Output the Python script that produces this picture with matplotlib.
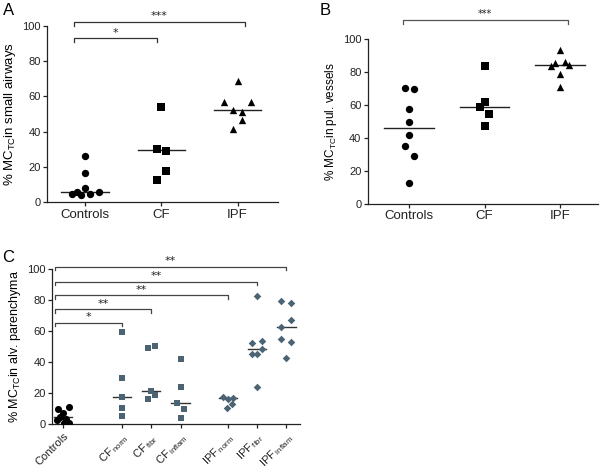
import matplotlib
matplotlib.use("Agg")
import matplotlib.pyplot as plt
import numpy as np

plt.rcParams['font.family'] = ['Liberation Sans', 'DejaVu Sans']
plt.rcParams['mathtext.fontset'] = 'custom'
plt.rcParams['mathtext.rm'] = 'Liberation Sans'
plt.rcParams['mathtext.it'] = 'Liberation Sans'

# ---------------- data ----------------
cats_AB = ["Controls", "CF", "IPF"]

A_ctrl = [4.5, 5.7, 4.3, 26.4, 16.4, 8.3, 4.5, 5.7]
A_ctrl_jit = [-0.17, -0.11, -0.06, 0, 0, 0, 0.07, 0.18]
A_cf = [54.2, 30.2, 29.2, 12.8, 17.9]
A_cf_jit = [0, -0.06, 0.06, -0.06, 0.06]
A_ipf = [68.5, 57.0, 56.8, 52.0, 51.0, 46.4, 41.7]
A_ipf_jit = [0, -0.18, 0.18, -0.06, 0.06, 0.06, -0.06]
A_medians = [5.7, 29.5, 52.0]

B_ctrl = [70.1, 69.5, 57.4, 49.9, 41.8, 34.9, 29.3, 12.7]
B_ctrl_jit = [-0.06, 0.06, 0, 0, 0, -0.06, 0.06, 0]
B_cf = [83.6, 61.8, 58.8, 54.3, 47.3]
B_cf_jit = [0, 0, -0.06, 0.06, 0]
B_ipf = [93.3, 83.8, 85.5, 86.1, 84.2, 78.8, 70.9]
B_ipf_jit = [0, -0.12, -0.06, 0.06, 0.12, 0, 0]
B_medians = [46.1, 58.6, 84.0]

C_labels = ["Controls", "CF$\\,_{\\mathrm{norm}}$", "CF$\\,_{\\mathrm{fibr}}$", "CF$\\,_{\\mathrm{inflam}}$",
            "IPF$\\,_{\\mathrm{norm}}$", "IPF$\\,_{\\mathrm{fibr}}$", "IPF$\\,_{\\mathrm{inflam}}$"]
C_pos = [0, 2, 3, 4, 5.6, 6.6, 7.6]
C_ctrl = [9.7, 11.0, 7.1, 4.5, 3.5, 2.8, 0.6, 0.6]
C_ctrl_jit = [-0.16, 0.2, 0, -0.1, 0.1, -0.2, 0.03, 0.2]
C_cf_norm = [59.7, 29.7, 17.8, 10.7, 5.1]
C_cf_norm_jit = [0, 0, 0, 0, 0]
C_cf_fibr = [49.0, 50.7, 21.7, 18.9, 16.3]
C_cf_fibr_jit = [-0.12, 0.12, 0, 0.12, -0.12]
C_cf_inflam = [41.9, 23.9, 13.5, 9.7, 4.1]
C_cf_inflam_jit = [0, 0, -0.13, 0.12, 0]
C_ipf_norm = [17.3, 16.9, 16.6, 13.1, 10.5]
C_ipf_norm_jit = [-0.17, 0.17, 0, 0.15, -0.02]
C_ipf_fibr = [82.8, 53.9, 52.7, 48.6, 45.4, 45.2, 24.3]
C_ipf_fibr_jit = [0, 0.17, -0.17, 0.17, -0.17, 0, 0]
C_ipf_inflam = [79.8, 78.5, 67.3, 62.6, 54.8, 53.3, 43.0]
C_ipf_inflam_jit = [-0.17, 0.17, 0.17, -0.17, -0.17, 0.17, 0]
C_medians = [4.9, 17.8, 21.7, 13.5, 16.8, 48.6, 62.6]

# brackets: (x_left, x_right, y, label)
A_brackets = [(-0.14, 0.94, 92.8, "*"), (-0.15, 2.1, 101.9, "***")]
B_brackets = [(-0.08, 2.1, 111.5, "***")]
C_brackets = [(-0.27, 2.0, 65.5, "*"), (-0.27, 3.0, 74.2, "**"), (-0.27, 5.6, 83.4, "**"),
              (-0.27, 6.6, 92.0, "**"), (-0.27, 7.6, 101.7, "**")]

# ---------------- figure ----------------
fig = plt.figure(figsize=(6.0, 4.7), dpi=100)

def style_axis(ax):
    for s in ['top', 'right']:
        ax.spines[s].set_visible(False)
    for s in ['left', 'bottom']:
        ax.spines[s].set_linewidth(0.9)
        ax.spines[s].set_color('#222222')
    ax.tick_params(direction='out', length=3, width=0.9, colors='#222222', labelsize=8, pad=1.5)
    ax.set_ylim(0, 100)
    ax.set_yticks([0, 20, 40, 60, 80, 100])

def bracket(ax, x0, x1, y, lab, drop, color, fs, tgap):
    ax.plot([x0, x0, x1, x1], [y - drop, y, y, y - drop], color=color, lw=0.9, clip_on=False)
    ax.text((x0 + x1) / 2, y + tgap, lab, ha='center', va='bottom', fontsize=fs, color='#222222',
            family='DejaVu Sans', clip_on=False)

def median_line(ax, x, m, half, color='#222222'):
    ax.plot([x - half, x + half], [m, m], color=color, lw=1.0, zorder=2)

# Panel A
axA = fig.add_axes([47/600, 1 - 202.3/470, 231/600, 176.6/470])
style_axis(axA)
axA.set_xlim(-0.5, 2.53)
mk = dict(color='black', s=28, zorder=3, linewidths=0)
axA.scatter(np.array(A_ctrl_jit) + 0, A_ctrl, marker='o', **mk)
axA.scatter(np.array(A_cf_jit) + 1, A_cf, marker='s', **mk)
axA.scatter(np.array(A_ipf_jit) + 2, A_ipf, marker='^', **mk)
for i, m in enumerate(A_medians):
    median_line(axA, i, m, 0.31)
axA.set_xticks(range(3))
axA.set_xticklabels(cats_AB, fontsize=9.5)
axA.set_ylabel("% MC$_{\\mathrm{TC}}$in small airways", fontsize=9.5, labelpad=3)
for b in A_brackets:
    bracket(axA, *b, drop=2.3, color='#333333', fs=8, tgap=0.5)

# Panel B
axB = fig.add_axes([367.7/600, 1 - 204/470, 230/600, 165/470])
style_axis(axB)
axB.set_xlim(-0.55, 2.5)
axB.scatter(np.array(B_ctrl_jit) + 0, B_ctrl, marker='o', **mk)
axB.scatter(np.array(B_cf_jit) + 1, B_cf, marker='s', **mk)
axB.scatter(np.array(B_ipf_jit) + 2, B_ipf, marker='^', **mk)
for i, m in enumerate(B_medians):
    median_line(axB, i, m, 0.33)
axB.set_xticks(range(3))
axB.set_xticklabels(cats_AB, fontsize=9.5)
axB.set_ylabel("% MC$_{\\mathrm{TC}}$in pul. vessels", fontsize=8.5, labelpad=3)
for b in B_brackets:
    bracket(axB, *b, drop=2.3, color='#555555', fs=7, tgap=0.5)

# Panel C
axC = fig.add_axes([52/600, 1 - 424.3/470, 248/600, 155/470])
style_axis(axC)
axC.set_xlim(-0.37, 8.06)
blue = '#4b6373'
axC.scatter(np.array(C_ctrl_jit) + C_pos[0], C_ctrl, marker='o', color='black', s=26, zorder=3, linewidths=0)
groups = [(C_cf_norm, C_cf_norm_jit, 's'), (C_cf_fibr, C_cf_fibr_jit, 's'), (C_cf_inflam, C_cf_inflam_jit, 's'),
          (C_ipf_norm, C_ipf_norm_jit, 'D'), (C_ipf_fibr, C_ipf_fibr_jit, 'D'), (C_ipf_inflam, C_ipf_inflam_jit, 'D')]
for (vals, jit, m), p in zip(groups, C_pos[1:]):
    axC.scatter(np.array(jit) + p, vals, marker=m, color=blue, s=18 if m == 's' else 15, zorder=3, linewidths=0)
for p, m in zip(C_pos, C_medians):
    median_line(axC, p, m, 0.31, color='#333333')
axC.set_xticks(C_pos)
axC.set_xticklabels(C_labels, fontsize=8, rotation=45, ha='right', rotation_mode='anchor')
axC.tick_params(axis='x', pad=2)
axC.set_ylabel("% MC$_{\\mathrm{TC}}$in alv. parenchyma", fontsize=9, labelpad=3)
for b in C_brackets:
    bracket(axC, *b, drop=2.3, color='#444444', fs=8, tgap=0.3)

# panel letters
fig.text(3/600, 1 - 3/470, "A", fontsize=12, va='top', ha='left')
fig.text(320/600, 1 - 3/470, "B", fontsize=12, va='top', ha='left')
fig.text(2/600, 1 - 250/470, "C", fontsize=12, va='top', ha='left')

fig.savefig("out.png", dpi=100)
